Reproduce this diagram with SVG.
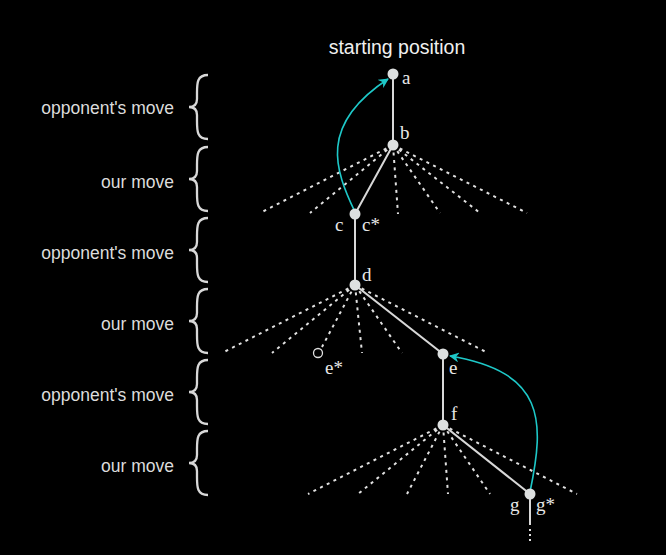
<svg xmlns="http://www.w3.org/2000/svg" width="666" height="555" viewBox="0 0 666 555">
<defs>
<style>
.lbl{font-family:"Liberation Sans",Arial,sans-serif;font-size:17.5px;fill:#dcdcdc;text-anchor:end}
.title{font-family:"Liberation Sans",Arial,sans-serif;font-size:19.5px;fill:#f0f0f0;text-anchor:middle}
.nl{font-family:"Liberation Serif","Times New Roman",serif;font-size:19px;fill:#e8e8e8}
.edge{stroke:#d8d8d8;stroke-width:2;fill:none}
.dot{stroke:#e0e0e0;stroke-width:2;stroke-dasharray:3 4.5;fill:none}
.cy{stroke:#1ec8c8;stroke-width:1.6;fill:none}
.brace{stroke:#d8d8d8;stroke-width:2.3;fill:none}
.node{fill:#dde0e0}
</style>
<marker id="ah" viewBox="0 0 10 10" refX="9" refY="5" markerWidth="10" markerHeight="10" markerUnits="userSpaceOnUse" orient="auto">
<path d="M0,0 L10,5 L0,10 L3,5 Z" fill="#1ec8c8"/>
</marker>
<path id="br" d="M208 0 C197 0 197 8 197 18 L197 24 C197 29 194 32 189 32 C194 32 197 35 197 40 L197 46 C197 56 197 64 208 64"/>
</defs>
<rect width="666" height="555" fill="#000"/>
<text class="title" x="397" y="54">starting position</text>
<g id="levels">
<text class="lbl" x="174" y="114">opponent's move</text>
<use href="#br" class="brace" y="75"/>
<text class="lbl" x="174" y="188">our move</text>
<use href="#br" class="brace" y="147"/>
<text class="lbl" x="174" y="259">opponent's move</text>
<use href="#br" class="brace" y="218"/>
<text class="lbl" x="174" y="330">our move</text>
<use href="#br" class="brace" y="289"/>
<text class="lbl" x="174" y="401">opponent's move</text>
<use href="#br" class="brace" y="360"/>
<text class="lbl" x="174" y="472">our move</text>
<use href="#br" class="brace" y="431"/>
</g>
<g id="connectors">
<path class="edge" d="M393 74 L393 145 L355 214 L355 285 L443 354 L443 425 L530 494 L530 525"/>
<path class="dot" d="M393 145 L260 213 M393 145 L310 213 M393 145 L398 214 M393 145 L440 213 M393 145 L480 213 M393 145 L527 213"/>
<path class="dot" d="M355 285 L222 353 M355 285 L272 353 M355 285 L322 347 M355 285 L362 353 M355 285 L402 353 M355 285 L488 353"/>
<path class="dot" d="M443 425 L308 494 M443 425 L358 494 M443 425 L407 494 M443 425 L448 494 M443 425 L490 494 M443 425 L577 494"/>
<path d="M530 529 L530 543" stroke="#e0e0e0" stroke-width="2" stroke-dasharray="2 3"/>
<path class="cy" d="M355 212 C335 170 318 125 388 79" marker-end="url(#ah)"/>
<path class="cy" d="M530 492 C545 420 545 372 450 356" marker-end="url(#ah)"/>
</g>
<g id="node-a"><circle class="node" cx="393" cy="74" r="5.5"/><text class="nl" x="402" y="84">a</text></g>
<g id="node-b"><circle class="node" cx="393" cy="145" r="5.5"/><text class="nl" x="400" y="139">b</text></g>
<g id="node-c"><circle class="node" cx="355" cy="214" r="5.5"/><text class="nl" x="335" y="231">c</text><text class="nl" x="362" y="231">c*</text></g>
<g id="node-d"><circle class="node" cx="355" cy="285" r="5.5"/><text class="nl" x="362" y="281">d</text></g>
<g id="node-estar"><circle cx="318" cy="353" r="4.5" fill="none" stroke="#e0e0e0" stroke-width="1.3"/><text class="nl" x="325" y="374">e*</text></g>
<g id="node-e"><circle class="node" cx="443" cy="354" r="5.5"/><text class="nl" x="449" y="374">e</text></g>
<g id="node-f"><circle class="node" cx="443" cy="425" r="5.5"/><text class="nl" x="451" y="420">f</text></g>
<g id="node-g"><circle class="node" cx="530" cy="494" r="5.5"/><text class="nl" x="510" y="511">g</text><text class="nl" x="536" y="511">g*</text></g>
</svg>
